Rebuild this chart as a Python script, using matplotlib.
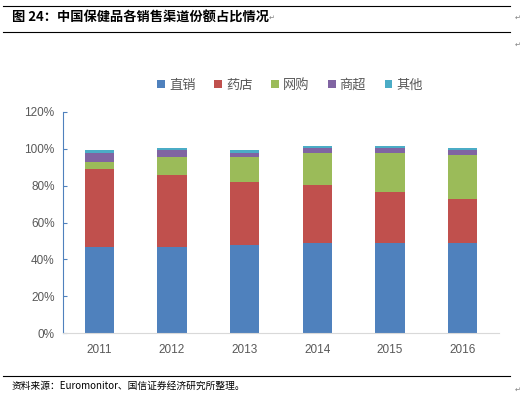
import matplotlib
matplotlib.use("Agg")
import matplotlib.pyplot as plt
from matplotlib.lines import Line2D
from matplotlib.ticker import PercentFormatter

plt.rcParams['font.family'] = ['Noto Sans CJK SC', 'DejaVu Sans']

years = ['2011', '2012', '2013', '2014', '2015', '2016']
series_names = ['直销', '药店', '网购', '商超', '其他']
direct = [46.5, 46.9, 48.0, 49.1, 49.1, 49.1]
pharmacy = [42.8, 39.1, 34.2, 31.0, 27.2, 23.4]
online = [3.8, 9.3, 13.1, 17.4, 21.2, 23.9]
supermarket = [4.9, 3.8, 2.7, 2.7, 2.7, 2.7]
other = [1.1, 1.1, 1.1, 1.1, 1.1, 1.1]
colors = ['#4F81BD', '#C0504D', '#9BBB59', '#8064A2', '#4BACC6']

fig = plt.figure(figsize=(5.28, 3.96), dpi=100)
ax = fig.add_axes([63/528, 1-333/396, 436/528, 221/396])

x = list(range(len(years)))
bottom = [0.0]*len(years)
for name, vals, c in zip(series_names, [direct, pharmacy, online, supermarket, other], colors):
    ax.bar(x, vals, width=0.4, bottom=bottom, color=c, label=name)
    bottom = [b+v for b, v in zip(bottom, vals)]

ax.set_xlim(-0.5, 5.5)
ax.set_ylim(0, 120)
ax.set_yticks(range(0, 121, 20))
ax.yaxis.set_major_formatter(PercentFormatter(decimals=0))
ax.set_xticks(x)
ax.set_xticklabels(years)
ax.tick_params(axis='both', colors='#595959', labelsize=8.5, length=0)
ax.tick_params(axis='x', pad=8)
ax.tick_params(axis='y', pad=6, length=3, direction='in', color='#4F81BD')
for s in ['top', 'right']:
    ax.spines[s].set_visible(False)
ax.spines['left'].set_color('#4F81BD')
ax.spines['bottom'].set_color('#D9D9D9')
for lab in ax.get_xticklabels() + ax.get_yticklabels():
    lab.set_family(['Liberation Sans', 'DejaVu Sans'])

leg = fig.legend(loc='center', bbox_to_anchor=(290/528, 1-85/396), ncol=5, frameon=False,
                 fontsize=9.5, handlelength=0.6, handleheight=0.6, handletextpad=0.3,
                 columnspacing=1.4, labelcolor='#595959')

# header/footer lines
fig.add_artist(Line2D([3/528, 510/528], [1-6/396, 1-6/396], color='black', lw=0.8))
fig.add_artist(Line2D([3/528, 510/528], [1-32/396, 1-32/396], color='black', lw=0.8))
fig.add_artist(Line2D([3/528, 510/528], [1-376/396, 1-376/396], color='black', lw=0.8))

fig.text(12/528, 1-18/396, '图 24：中国保健品各销售渠道份额占比情况', fontsize=9.5, fontweight='bold',
         va='center', ha='left')
fig.text(12/528, 1-386/396, '资料来源：Euromonitor、国信证券经济研究所整理。', fontsize=7,
         va='center', ha='left')
for (px, py) in [(272, 18), (518, 18), (518, 45), (518, 390)]:
    fig.text(px/528, 1-py/396, '↵', fontsize=5, color='#808080', va='center', ha='center',
             family=['DejaVu Sans'])

fig.savefig('out.png', dpi=100)
